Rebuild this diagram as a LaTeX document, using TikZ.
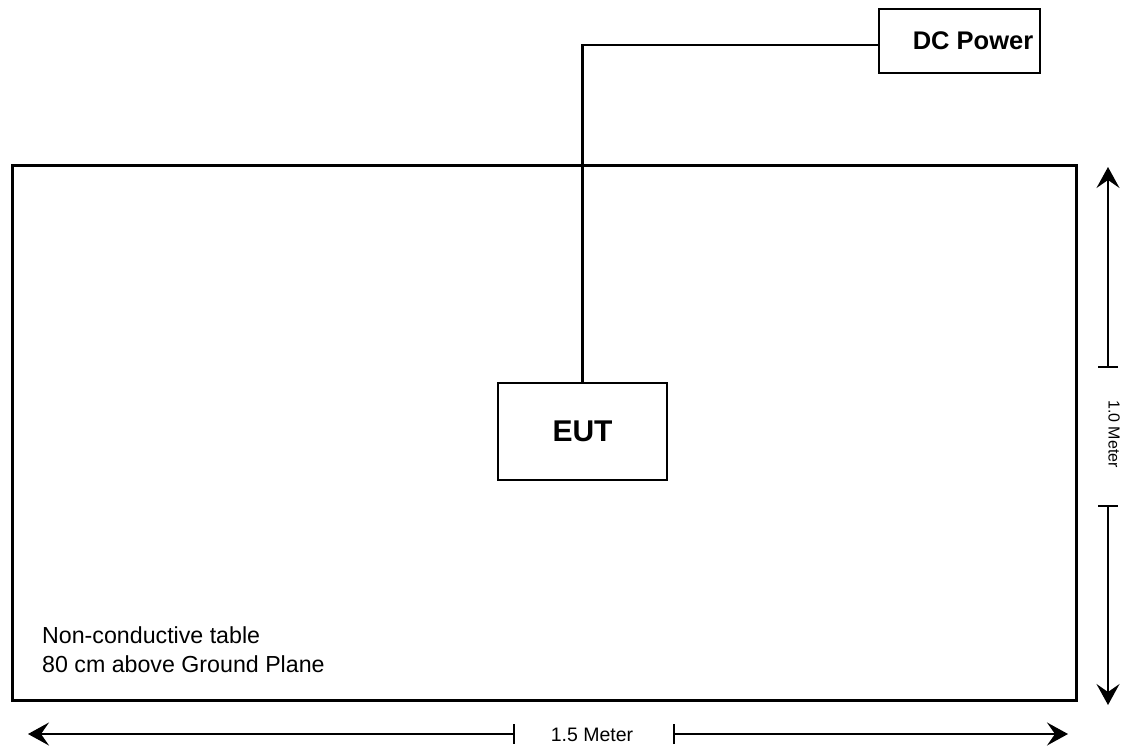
\documentclass[tikz,border=0pt]{standalone}
\usepackage{fontspec}
\setmainfont{Liberation Sans}
\usetikzlibrary{arrows.meta}
\begin{document}
\begin{tikzpicture}[x=1pt,y=-1pt,
  box/.style={draw=black, line width=2pt, inner sep=0pt, font=\bfseries},
  tablebox/.style={draw=black, line width=3pt, inner sep=0pt},
  wire/.style={line width=2.7pt},
  dimline/.style={line width=1.6pt, {Stealth[length=21pt,width=23pt,inset=8pt]}-{Bar[width=20pt]}},
  lbl/.style={inner sep=0pt}]
\useasboundingbox (0,0) rectangle (1135,752);
\node[tablebox, minimum width=1064pt, minimum height=535pt] (table) at (544,432.5) {};
\node[box, minimum width=161pt, minimum height=64pt, font=\bfseries\fontsize{25.5}{30}\selectfont] (dc) at (959.5,41) {\hspace*{27pt}DC Power};
\node[box, minimum width=169pt, minimum height=97pt, font=\bfseries\fontsize{30}{36}\selectfont] (eut) at (582.5,431.5) {EUT};
\draw[wire] ([yshift=-4pt]dc.west) -| (eut.north);
\node[lbl, anchor=base west, font=\fontsize{23.2}{28}\selectfont] (t1) at (42,643) {Non-conductive table};
\node[lbl, anchor=base west, font=\fontsize{23.2}{28}\selectfont] (t2) at (42,672) {80 cm above Ground Plane};
% horizontal dimension
\coordinate (hl) at (28,734);
\coordinate (hlb) at (515,734);
\coordinate (hrb) at (673,734);
\coordinate (hr) at (1068,734);
\node[lbl, font=\fontsize{19.5}{24}\selectfont] (wlabel) at (592,735) {1.5 Meter};
\draw[dimline] (hl) -- (hlb);
\draw[dimline] (hr) -- (hrb);
% vertical dimension
\coordinate (vt) at (1108,167);
\coordinate (vtb) at (1108,368);
\coordinate (vbb) at (1108,505);
\coordinate (vb) at (1108,705);
\node[lbl, rotate=-90, font=\fontsize{16}{20}\selectfont] (hlabel) at (1114,434) {1.0 Meter};
\draw[dimline] (vt) -- (vtb);
\draw[dimline] (vb) -- (vbb);
\end{tikzpicture}
\end{document}
